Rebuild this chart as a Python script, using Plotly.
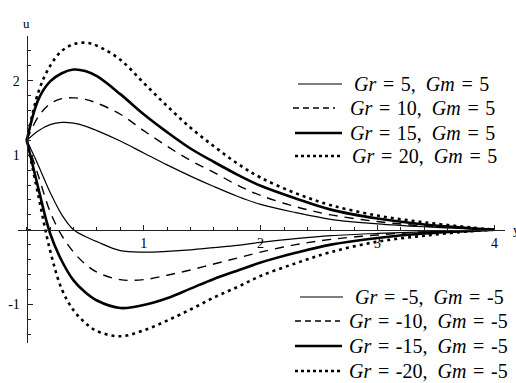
import plotly.graph_objects as go

# Distance from the plate and velocity profiles u for each (Gr, Gm) pair
x_vals = [0, 0.1, 0.2, 0.3, 0.4, 0.5, 0.6, 0.8, 1.0, 1.2, 1.4, 1.6, 1.8, 2.0, 2.3, 2.6, 3.0, 3.4, 3.8, 4.0]

u_gr5 = [1.20, 1.33, 1.41, 1.44, 1.43, 1.39, 1.33, 1.19, 1.03, 0.87, 0.72, 0.58, 0.45, 0.34, 0.23, 0.14, 0.08, 0.04, 0.01, 0]
u_gr10 = [1.20, 1.52, 1.69, 1.76, 1.77, 1.75, 1.70, 1.55, 1.33, 1.12, 0.93, 0.77, 0.60, 0.46, 0.31, 0.20, 0.11, 0.05, 0.015, 0]
u_gr15 = [1.20, 1.75, 1.99, 2.10, 2.15, 2.13, 2.06, 1.82, 1.55, 1.31, 1.09, 0.91, 0.74, 0.59, 0.42, 0.27, 0.15, 0.07, 0.02, 0]
u_gr20 = [1.20, 1.85, 2.20, 2.40, 2.49, 2.51, 2.47, 2.28, 1.97, 1.66, 1.37, 1.12, 0.89, 0.70, 0.49, 0.33, 0.19, 0.10, 0.03, 0]

u_grm5 = [1.20, 0.86, 0.50, 0.20, 0.0, -0.09, -0.16, -0.28, -0.30, -0.29, -0.27, -0.24, -0.21, -0.17, -0.12, -0.08, -0.05, -0.03, -0.01, 0]
u_grm10 = [1.20, 0.72, 0.24, -0.08, -0.30, -0.46, -0.57, -0.67, -0.67, -0.61, -0.54, -0.46, -0.38, -0.30, -0.20, -0.13, -0.07, -0.03, -0.01, 0]
u_grm15 = [1.20, 0.55, -0.05, -0.42, -0.68, -0.84, -0.95, -1.05, -1.01, -0.92, -0.79, -0.66, -0.55, -0.44, -0.31, -0.20, -0.11, -0.05, -0.015, 0]
u_grm20 = [1.20, 0.45, -0.28, -0.80, -1.08, -1.25, -1.36, -1.43, -1.35, -1.22, -1.07, -0.91, -0.77, -0.62, -0.45, -0.30, -0.16, -0.08, -0.02, 0]

gr_pos = ["5", "10", "15", "20"]
gr_neg = ["-5", "-10", "-15", "-20"]
gm_pos = "5"
gm_neg = "-5"

x_ticks = [1, 2, 3, 4]
y_ticks = [-1, 1, 2]

EQ_SP = "\u2004"   # three-per-em space around "="
COMMA_SP = "\u2002"  # en space after the comma


def key_label(gr, gm):
    return (f"<i>Gr</i>{EQ_SP}={EQ_SP}{gr},{COMMA_SP}"
            f"<i>Gm</i>{EQ_SP}={EQ_SP}{gm}")


styles = [
    dict(width=1.2, dash="solid"),
    dict(width=1.4, dash="9px,7px"),
    dict(width=2.6, dash="solid"),
    dict(width=2.6, dash="3px,4px"),
]
key_dash = ["solid", "6px,4px", "solid", "3px,3px"]

X_RANGE = [-0.075, 4.09]
Y_RANGE = [-1.52, 2.6]

# plot-area geometry in pixels
W, H = 516, 383
ML, MR, MT, MB = 18, 11, 36, 40
PW, PH = W - ML - MR, H - MT - MB


def px_x(px):
    return (px - ML) / PW


def px_y(py):
    return 1 - (py - MT) / PH


fig = go.Figure()
for series, gr, st in zip([u_gr5, u_gr10, u_gr15, u_gr20], gr_pos, styles):
    fig.add_trace(go.Scatter(x=x_vals, y=series, mode="lines", name=key_label(gr, gm_pos),
                             line=dict(color="black", shape="spline", smoothing=1.0, **st),
                             showlegend=False))
for series, gr, st in zip([u_grm5, u_grm10, u_grm15, u_grm20], gr_neg, styles):
    fig.add_trace(go.Scatter(x=x_vals, y=series, mode="lines", name=key_label(gr, gm_neg),
                             line=dict(color="black", shape="spline", smoothing=1.0, **st),
                             showlegend=False))

font_key = dict(family="Liberation Serif", size=20, color="black")
tick_font = dict(family="Liberation Serif", size=14, color="black")

# key blocks: (sample start, sample end, text start, row y) in pixels
key_rows_pos = [(298, 342, 352, 84), (293, 335, 348, 108), (295, 342, 348, 133), (295, 340, 350, 156)]
key_rows_neg = [(300, 343, 353, 297), (295, 340, 347, 321), (295, 342, 347, 346), (295, 340, 347, 371)]

shapes = []
annotations = []
for rows, grs, gm in [(key_rows_pos, gr_pos, gm_pos), (key_rows_neg, gr_neg, gm_neg)]:
    for (x0, x1, xt, yr), gr, st, dsh in zip(rows, grs, styles, key_dash):
        shapes.append(dict(type="line", xref="paper", yref="paper",
                           x0=px_x(x0), x1=px_x(x1), y0=px_y(yr), y1=px_y(yr),
                           line=dict(color="black", width=st["width"], dash=dsh)))
        annotations.append(dict(text=key_label(gr, gm), xref="paper", yref="paper",
                                x=px_x(xt), y=px_y(yr), xanchor="left", yanchor="middle",
                                showarrow=False, font=font_key))

annotations += [
    dict(text="u", x=0, xref="x", y=1, yref="paper", yshift=22, showarrow=False,
         font=dict(family="Liberation Serif", size=13, color="black")),
    dict(text="y", x=1, xref="paper", xanchor="left", xshift=6, y=0, yref="y",
         showarrow=False, font=dict(family="Liberation Serif", size=13, color="black")),
]

x_pos = (0 - X_RANGE[0]) / (X_RANGE[1] - X_RANGE[0])
y_pos = (0 - Y_RANGE[0]) / (Y_RANGE[1] - Y_RANGE[0])

fig.update_layout(
    width=W, height=H,
    margin=dict(l=ML, r=MR, t=MT, b=MB, autoexpand=False),
    paper_bgcolor="white", plot_bgcolor="white",
    showlegend=False,
    xaxis=dict(range=X_RANGE, showgrid=False, zeroline=False, showline=True,
               linecolor="#222", linewidth=1.3, anchor="free", position=y_pos,
               tickmode="array", tickvals=x_ticks, ticktext=[str(v) for v in x_ticks],
               ticks="inside", ticklen=5, tickwidth=1, tickcolor="#222", tickfont=tick_font,
               minor=dict(ticks="inside", dtick=0.2, tick0=0, ticklen=3, tickcolor="#222")),
    yaxis=dict(range=Y_RANGE, showgrid=False, zeroline=False, showline=True,
               linecolor="#222", linewidth=1.3, anchor="free", position=x_pos,
               tickmode="array", tickvals=y_ticks, ticktext=[str(v) for v in y_ticks],
               ticks="inside", ticklen=5, tickwidth=1, tickcolor="#222", tickfont=tick_font,
               ticklabelstandoff=4,
               minor=dict(ticks="inside", dtick=0.2, tick0=0, ticklen=3, tickcolor="#222")),
    shapes=shapes,
    annotations=annotations,
)

fig.write_html("out.html")
